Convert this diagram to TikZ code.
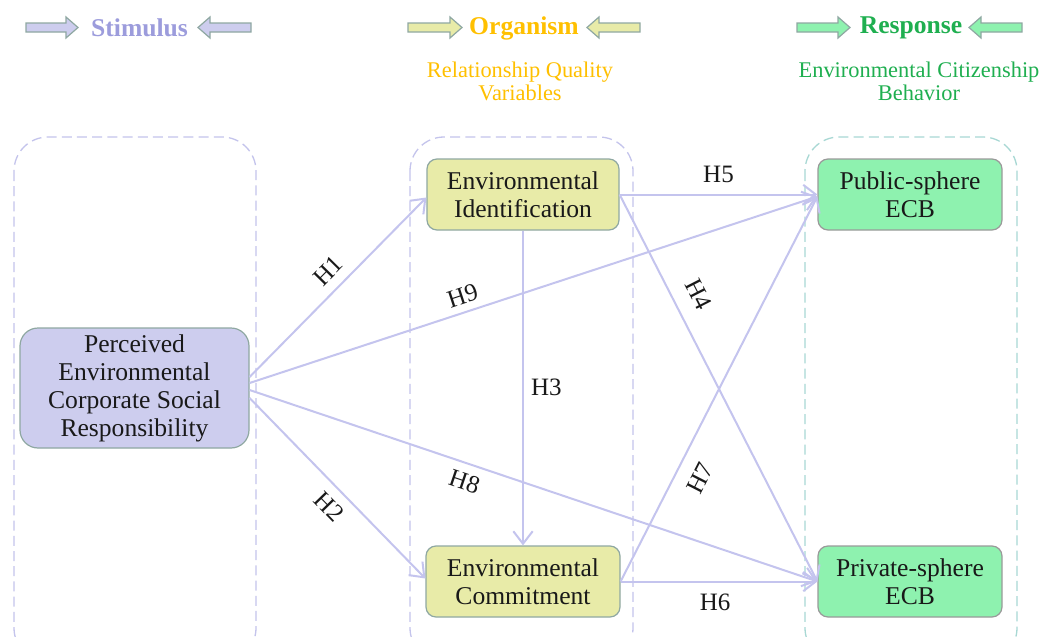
\documentclass[tikz,border=0pt]{standalone}
\usepackage{fontspec}
\setmainfont{Liberation Serif}
\usetikzlibrary{arrows.meta}
\definecolor{stimtext}{HTML}{9C9CDC}
\definecolor{stimfill}{HTML}{CDCDEE}
\definecolor{orgtext}{HTML}{FFC000}
\definecolor{orgfill}{HTML}{E8EBA8}
\definecolor{resptext}{HTML}{1FAF50}
\definecolor{respfill}{HTML}{8EF2AF}
\definecolor{edgegray}{HTML}{8FA8A2}
\definecolor{ecbedge}{HTML}{9A9A9A}
\definecolor{dashlav}{HTML}{C4C4EC}
\definecolor{dashteal}{HTML}{A8D8D4}
\definecolor{linkcol}{HTML}{C4C4EE}
\newcommand\hdrArrR[3]{\filldraw[fill=#3,draw=edgegray,line width=0.6pt]
  (#1,23) -- (#2-12,23) -- (#2-12,17) -- (#2,27.5) -- (#2-12,38) -- (#2-12,32) -- (#1,32) -- cycle;}
\newcommand\hdrArrL[3]{\filldraw[fill=#3,draw=edgegray,line width=0.6pt]
  (#2,23) -- (#1+12,23) -- (#1+12,17) -- (#1,27.5) -- (#1+12,38) -- (#1+12,32) -- (#2,32) -- cycle;}
\begin{document}
\begin{tikzpicture}[x=0.5pt,y=-0.5pt,
  grpbox/.style={line width=0.65pt, dash pattern=on 5pt off 2.6pt, rounded corners=17pt},
  hdr/.style={font=\fontsize{12.8}{14}\selectfont\bfseries, inner sep=0pt},
  sub/.style={font=\fontsize{11.2}{11.6}\selectfont, align=center, inner sep=0pt},
  concept/.style={draw=edgegray, line width=0.6pt, rounded corners=5pt, align=center,
     font=\fontsize{12.8}{14}\selectfont, inner sep=0pt, text=black!90},
  link/.style={draw=linkcol, line width=1pt, -{Straight Barb[length=2.2mm,width=3.4mm]}},
  hlab/.style={font=\fontsize{12.5}{14}\selectfont, inner sep=0pt, text=black!90}
]
\clip (0,0) rectangle (1045,637);
\fill[white] (0,0) rectangle (1045,637);
% group frames
\draw[grpbox, draw=dashlav] (14,137) rectangle (256,662);
\draw[grpbox, draw=dashlav] (410,137) rectangle (633,662);
\draw[grpbox, draw=dashteal] (805,137) rectangle (1017,662);
% headers
\hdrArrR{26}{78}{stimfill}
\hdrArrL{198}{251}{stimfill}
\node[hdr, text=stimtext] (hstim) at (139.5,28) {Stimulus};
\hdrArrR{408}{462}{orgfill}
\hdrArrL{587}{640}{orgfill}
\node[hdr, text=orgtext] (horg) at (524,28) {Organism};
\node[sub, text=orgtext] (sorg) at (520,81) {Relationship Quality\\Variables};
\hdrArrR{797}{850}{respfill}
\hdrArrL{969}{1022}{respfill}
\node[hdr, text=resptext] (hresp) at (911,28) {Response};
\node[sub, text=resptext] (sresp) at (919,81) {Environmental Citizenship\\Behavior};
% concepts
\node[concept, fill=stimfill, rounded corners=9pt, minimum width=114.5pt, minimum height=60pt] (pe) at (134.5,388)
  {Perceived\\Environmental\\Corporate Social\\Responsibility};
\node[concept, fill=orgfill, minimum width=96pt, minimum height=35.5pt] (ei) at (523,194.5) {Environmental\\Identification};
\node[concept, fill=orgfill, minimum width=97pt, minimum height=35.5pt] (ec) at (523,581.5) {Environmental\\Commitment};
\node[concept, fill=respfill, draw=ecbedge, minimum width=92pt, minimum height=35.5pt] (pub) at (910,194.5) {Public-sphere\\ECB};
\node[concept, fill=respfill, draw=ecbedge, minimum width=92pt, minimum height=35.5pt] (priv) at (910,581.5) {Private-sphere\\ECB};
% links
\draw[link] ([yshift=5.5pt]pe.east) -- node[hlab, sloped, pos=0.52, above=4.8pt] (l1) {H1} ([yshift=-1.5pt]ei.west);
\draw[link] ([yshift=-5pt]pe.east) -- node[hlab, sloped, pos=0.53, below=4.8pt] (l2) {H2} ([yshift=1.5pt]ec.west);
\draw[link] ([yshift=2.5pt]pe.east) -- node[hlab, sloped, pos=0.384, above=3.4pt] (l9) {H9} ([yshift=-1pt]pub.west);
\draw[link] ([yshift=-1pt]pe.east) -- node[hlab, sloped, pos=0.389, below=4.5pt] (l8) {H8} (priv.west);
\draw[link] (ei.south) -- node[hlab, pos=0.497, right=3.5pt] (l3) {H3} (ec.north);
\draw[link] (ei.east) -- node[hlab, pos=0.5, above=5.5pt] (l5) {H5} (pub.west);
\draw[link] (ei.east) -- node[hlab, sloped, pos=0.287, above=8pt] (l4) {H4} (priv.west);
\draw[link] (ec.east) -- node[hlab, sloped, pos=0.296, below=7.5pt] (l7) {H7} ([yshift=-1pt]pub.west);
\draw[link] (ec.east) -- node[hlab, pos=0.48, below=5.5pt] (l6) {H6} (priv.west);
\end{tikzpicture}
\end{document}
